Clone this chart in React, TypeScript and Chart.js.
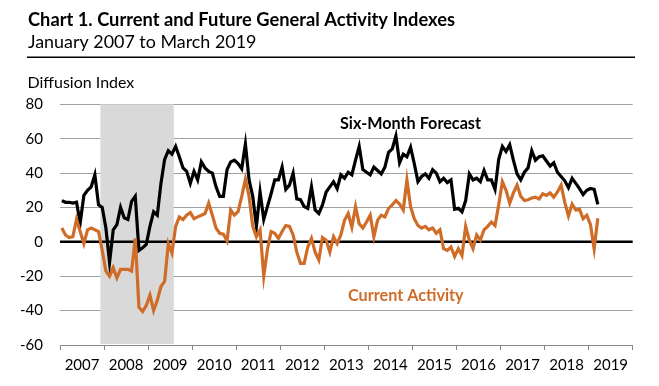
import React, { useEffect, useRef } from 'react';
import { Chart, registerables } from 'chart.js';

Chart.register(...registerables);

// ---------- data ----------
const YEAR_LABELS = ['2007', '2008', '2009', '2010', '2011', '2012', '2013', '2014', '2015', '2016', '2017', '2018', '2019'];
const Y_TICKS = [-60, -40, -20, 0, 20, 40, 60, 80];

// Six-Month Forecast (future general activity), monthly Jan 2007 - Mar 2019
const FUTURE = [
  24, 23, 23, 22.5, 23, 11, 27, 30, 32, 39, 21.5, 20,
  8, -12, 7, 10, 20, 14, 13, 23.5, 26.5, -5, -3.5, -1.5,
  9, 17.5, 15.5, 34, 48, 53, 51, 55.5, 49.5, 43, 41, 34,
  41, 36, 46.5, 43, 41, 40, 32, 26.5, 26.5, 42, 46.5, 47.5,
  45.5, 42.5, 57, 36, 26.5, 9, 29, 13, 20.5, 28, 36, 36,
  43.5, 30.5, 33, 40, 25, 24.5, 20.5, 19.5, 32, 18.5, 16.5, 21.5,
  29, 32, 35, 31, 39, 37, 40.5, 39, 47.5, 55.5, 42, 40.5,
  39, 43.5, 41.5, 39.5, 43.5, 52, 54, 61.5, 46, 51, 49.5, 55,
  45.5, 35, 38, 39.5, 37, 42, 40, 35, 37, 34.5, 36, 19,
  19.5, 17.5, 24, 39.5, 36, 37, 35, 41.5, 36, 36, 30.5, 48,
  55.5, 52.5, 56.5, 47.5, 39.5, 36, 40.5, 43, 53, 47.5, 49.5, 50,
  47, 44, 46, 40.5, 38, 35.5, 31.5, 37, 34, 31, 27.5, 30,
  31, 30.5, 21.8,
];

// Current Activity, monthly Jan 2007 - Mar 2019
const CURRENT = [
  8, 4, 2.5, 3, 13, 6, -1, 7, 8, 7, 6, -5,
  -17, -20, -15, -21, -16, -16, -16, -17, 2, -38, -40.5, -37,
  -31, -40, -34, -26, -23, -1, -6.5, 9, 14.5, 13, 15.5, 17,
  13.5, 14.5, 15.5, 16.5, 22.5, 15.5, 8, 5, 4.5, 0.5, 18.5, 15.5,
  17.5, 26.5, 36.5, 26.5, 9, 3, 7, -20, -4.5, 6, 5, 2,
  6, 9.5, 9, 4, -6, -12.5, -12.5, -3, 2, -6, -10.5, 2.5,
  1, -6, 3, -1, 4, 12.5, 16.5, 8.5, 20.5, 10.5, 8, 11.5,
  15.5, 3, 12.5, 15.5, 14.5, 19.5, 21.5, 24, 22, 18.5, 36, 20.5,
  13.5, 9.5, 8, 9, 7, 8, 5, 7, -4, -5, -3, -8.5,
  -4, -8, 9, 1, -4, 4, 1, 7, 9, 11.5, 9.5, 21.5,
  35, 30, 22.5, 28.5, 33, 26.5, 24, 24.5, 25.5, 26, 25, 28,
  27, 28.5, 26, 29, 33, 23, 15, 22, 18.5, 19, 13.5, 15.5,
  10, -4.1, 13.7,
];

// Recession shading, in months from Jan 2007 (Dec 2007 .. mid 2009)
const RECESSION = [11, 31];

// ---------- style ----------
const FONT = 'Lato, "Open Sans", "DejaVu Sans", sans-serif';
const ORANGE = '#cf6c28';
const GRID = '#a0a0a0';
const SHADE = '#d9d9d9';

const MONTHS = YEAR_LABELS.length * 12;

const toPoints = (arr: number[]) => arr.map((v, i) => ({ x: i + 0.5, y: v }));

const decorPlugin = {
  id: 'decor',
  beforeDatasetsDraw(chart: any) {
    const { ctx, chartArea, scales } = chart;
    const x = scales.x;
    const y = scales.y;
    ctx.save();
    // recession shading
    const x0 = x.getPixelForValue(RECESSION[0]);
    const x1 = x.getPixelForValue(RECESSION[1]);
    ctx.fillStyle = SHADE;
    ctx.fillRect(x0, chartArea.top, x1 - x0, chartArea.bottom - chartArea.top - 1);
    // zero line
    const y0 = y.getPixelForValue(0);
    ctx.strokeStyle = '#000';
    ctx.lineWidth = 2.5;
    ctx.beginPath();
    ctx.moveTo(chartArea.left, y0);
    ctx.lineTo(chartArea.right, y0);
    ctx.stroke();
    ctx.restore();
  },
  afterDraw(chart: any) {
    const { ctx } = chart;
    ctx.save();
    ctx.textBaseline = 'alphabetic';
    ctx.textAlign = 'left';
    ctx.fillStyle = '#000';
    ctx.font = `bold 18.3px ${FONT}`;
    ctx.fillText('Chart 1. Current and Future General Activity Indexes', 28, 26);
    ctx.font = `17.9px ${FONT}`;
    ctx.fillText('January 2007 to March 2019', 28, 47.5);
    ctx.strokeStyle = '#000';
    ctx.lineWidth = 1.5;
    ctx.beginPath();
    ctx.moveTo(27, 57.3);
    ctx.lineTo(635, 57.3);
    ctx.stroke();
    ctx.font = `16px ${FONT}`;
    ctx.fillText('Diffusion Index', 27.5, 88.3);
    ctx.font = `bold 16.2px ${FONT}`;
    ctx.fillText('Six-Month Forecast', 340, 129.3);
    ctx.fillStyle = ORANGE;
    ctx.fillText('Current Activity', 348, 300.5);
    ctx.restore();
  },
};

export default function App() {
  const ref = useRef<HTMLCanvasElement>(null);

  useEffect(() => {
    if (!ref.current) return;
    const chart = new Chart(ref.current, {
      type: 'line',
      data: {
        datasets: [
          {
            label: 'Current Activity',
            data: toPoints(CURRENT),
            borderColor: ORANGE,
            borderWidth: 3.2,
            pointRadius: 0,
            tension: 0,
          },
          {
            label: 'Six-Month Forecast',
            data: toPoints(FUTURE),
            borderColor: '#000',
            borderWidth: 3.2,
            pointRadius: 0,
            tension: 0,
          },
        ],
      },
      options: {
        responsive: false,
        animation: false,
        devicePixelRatio: 1,
        layout: { padding: { top: 104.3, right: 26.3, left: 0, bottom: 0 } },
        plugins: {
          legend: { display: false },
          tooltip: { enabled: false },
        },
        scales: {
          x: {
            type: 'linear',
            min: 0,
            max: MONTHS,
            afterBuildTicks: (s: any) => {
              const t = [];
              for (let v = 0; v <= MONTHS; v += 6) t.push({ value: v });
              s.ticks = t;
            },
            afterFit: (s: any) => {
              s.height = 41;
            },
            ticks: {
              autoSkip: false,
              maxRotation: 0,
              minRotation: 0,
              padding: 6,
              color: '#000',
              font: { family: FONT, size: 15 },
              callback: (v: any) => {
                const n = Number(v);
                return n % 12 === 6 ? YEAR_LABELS[(n - 6) / 12] : '';
              },
            },
            grid: {
              drawOnChartArea: false,
              drawTicks: true,
              tickLength: 5,
              lineWidth: 1,
              color: (c: any) => (c.tick && c.tick.value % 12 === 0 ? '#888' : 'rgba(0,0,0,0)'),
            },
            border: { display: true, color: '#888', width: 1 },
          },
          y: {
            min: -60,
            max: 80,
            afterBuildTicks: (s: any) => {
              s.ticks = Y_TICKS.map((v) => ({ value: v }));
            },
            afterFit: (s: any) => {
              s.width = 60;
            },
            ticks: {
              padding: 17,
              color: '#000',
              font: { family: FONT, size: 15 },
            },
            grid: {
              drawTicks: false,
              lineWidth: 1,
              color: (c: any) => (c.tick && c.tick.value === 0 ? 'rgba(0,0,0,0)' : GRID),
            },
            border: { display: false },
          },
        },
      },
      plugins: [decorPlugin],
    } as any);
    return () => chart.destroy();
  }, []);

  return (
    <div style={{ position: 'absolute', left: 0, top: 0, width: 659, height: 386, background: '#fff' }}>
      <canvas ref={ref} width={659} height={386} style={{ display: 'block' }} />
    </div>
  );
}
